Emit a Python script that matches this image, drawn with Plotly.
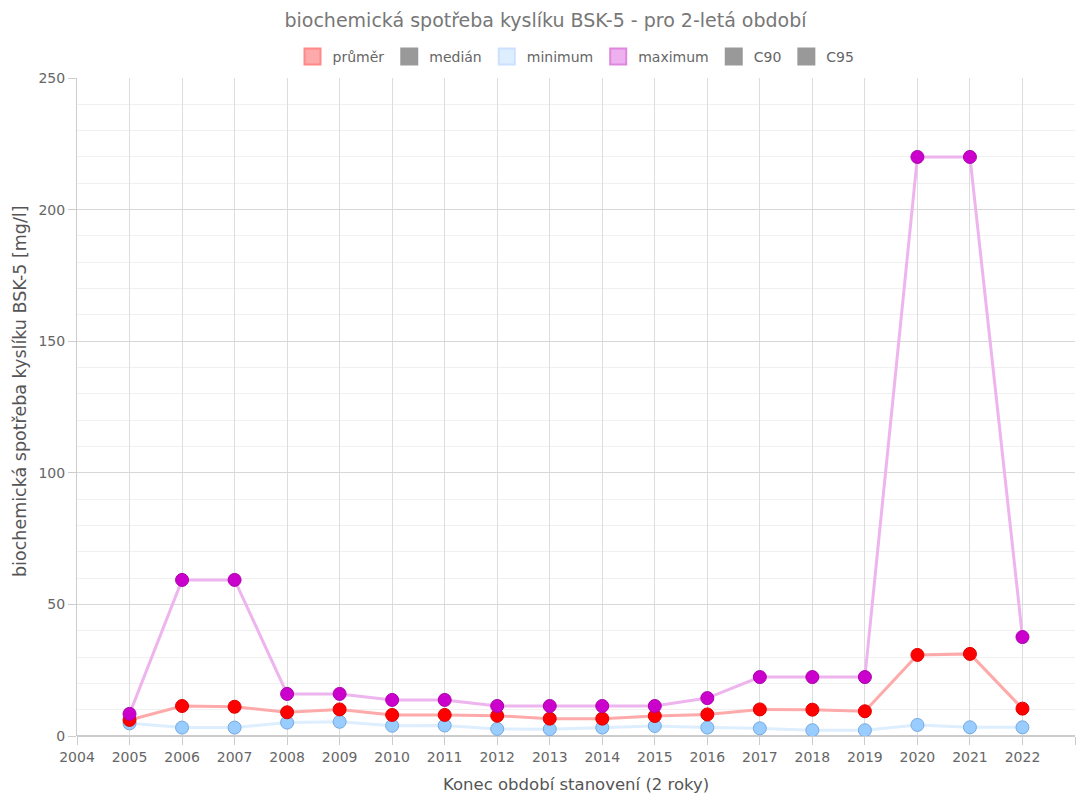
import plotly.graph_objects as go

years = list(range(2005, 2023))
prumer = [6.1, 11.4, 11.1, 9.0, 10.1, 8.0, 8.0, 7.7, 6.6, 6.6, 7.6, 8.2, 10.1, 10.0, 9.4, 30.8, 31.2, 10.4]
minimum = [4.8, 3.2, 3.2, 5.1, 5.4, 3.9, 4.0, 2.7, 2.6, 3.2, 3.8, 3.2, 2.9, 2.2, 2.2, 4.2, 3.3, 3.3]
maximum = [8.4, 59.3, 59.3, 16.0, 16.0, 13.7, 13.7, 11.4, 11.4, 11.4, 11.4, 14.4, 22.4, 22.4, 22.4, 220.0, 220.0, 37.6]

legend_names = ["průměr", "medián", "minimum", "maximum", "C90", "C95"]
legend_fill = ["#ffaaaa", "#999999", "#ddeeff", "#eeb0ee", "#999999", "#999999"]
legend_edge = ["#ff8888", "#999999", "#cce0ff", "#dd88dd", "#999999", "#999999"]

fig = go.Figure()

fig.add_trace(go.Scatter(x=years, y=minimum, mode="lines+markers", showlegend=False,
                         line=dict(color="#ddeeff", width=3),
                         marker=dict(color="#99ccff", size=13, line=dict(color="#77aadd", width=1))))
fig.add_trace(go.Scatter(x=years, y=prumer, mode="lines+markers", showlegend=False,
                         line=dict(color="#ffaaaa", width=3),
                         marker=dict(color="#ff0000", size=13, line=dict(color="#dd0000", width=1))))
fig.add_trace(go.Scatter(x=years, y=maximum, mode="lines+markers", showlegend=False,
                         line=dict(color="#eeb4ee", width=3),
                         marker=dict(color="#cc00cc", size=13, line=dict(color="#aa00aa", width=1))))

for n, f, e in zip(legend_names, legend_fill, legend_edge):
    fig.add_trace(go.Scatter(x=[None], y=[None], mode="markers", name=n,
                             marker=dict(symbol="square", size=16, color=f, line=dict(color=e, width=2))))

W, H = 1091, 794
fig.update_layout(
    width=W, height=H,
    paper_bgcolor="white", plot_bgcolor="white",
    font=dict(family="DejaVu Sans, Verdana, sans-serif", color="#666666", size=14),
    title=dict(text="biochemická spotřeba kyslíku BSK-5 - pro 2-letá období", x=0.5, xanchor="center",
               y=1 - 20 / H, yanchor="middle", font=dict(size=19, color="#777777")),
    margin=dict(l=77, r=16, t=78, b=58),
    legend=dict(orientation="h", x=0.5, xanchor="center", yref="container", y=1 - 57 / H, yanchor="middle",
                font=dict(size=14, color="#666666"), itemclick=False, traceorder="normal"),
    xaxis=dict(range=[2004, 2023], tickmode="linear", dtick=1, tick0=2004, automargin=False,
               showgrid=True, gridcolor="#dddddd", gridwidth=1,
               ticks="outside", ticklen=8, tickcolor="#cccccc",
               showline=False, zeroline=False, tickfont=dict(size=14)),
    yaxis=dict(range=[0, 250], tickmode="linear", dtick=50, tick0=0, automargin=False,
               showgrid=True, gridcolor="#d8d8d8", gridwidth=1,
               minor=dict(dtick=10, showgrid=True, gridcolor="#f0f0f0", gridwidth=1),
               ticks="outside", ticklen=8, tickcolor="#cccccc", tickfont=dict(size=14),
               showline=True, linecolor="#cccccc", zeroline=True, zerolinecolor="#cccccc", zerolinewidth=2),
    annotations=[
        dict(text="Konec období stanovení (2 roky)", xref="paper", yref="paper", x=0.5, y=(736 - 784) / 658,
             xanchor="center", yanchor="middle", showarrow=False, font=dict(size=16.5, color="#555555")),
        dict(text="biochemická spotřeba kyslíku BSK-5 [mg/l]", xref="paper", yref="paper",
             x=(20 - 77) / 998, y=(736 - 391) / 658, xanchor="center", yanchor="middle", textangle=-90,
             showarrow=False, font=dict(size=17.5, color="#555555")),
    ],
)

fig.write_html("out.html", config={"displayModeBar": False},
               post_script="document.body.style.margin='0';document.body.style.overflow='hidden';")
